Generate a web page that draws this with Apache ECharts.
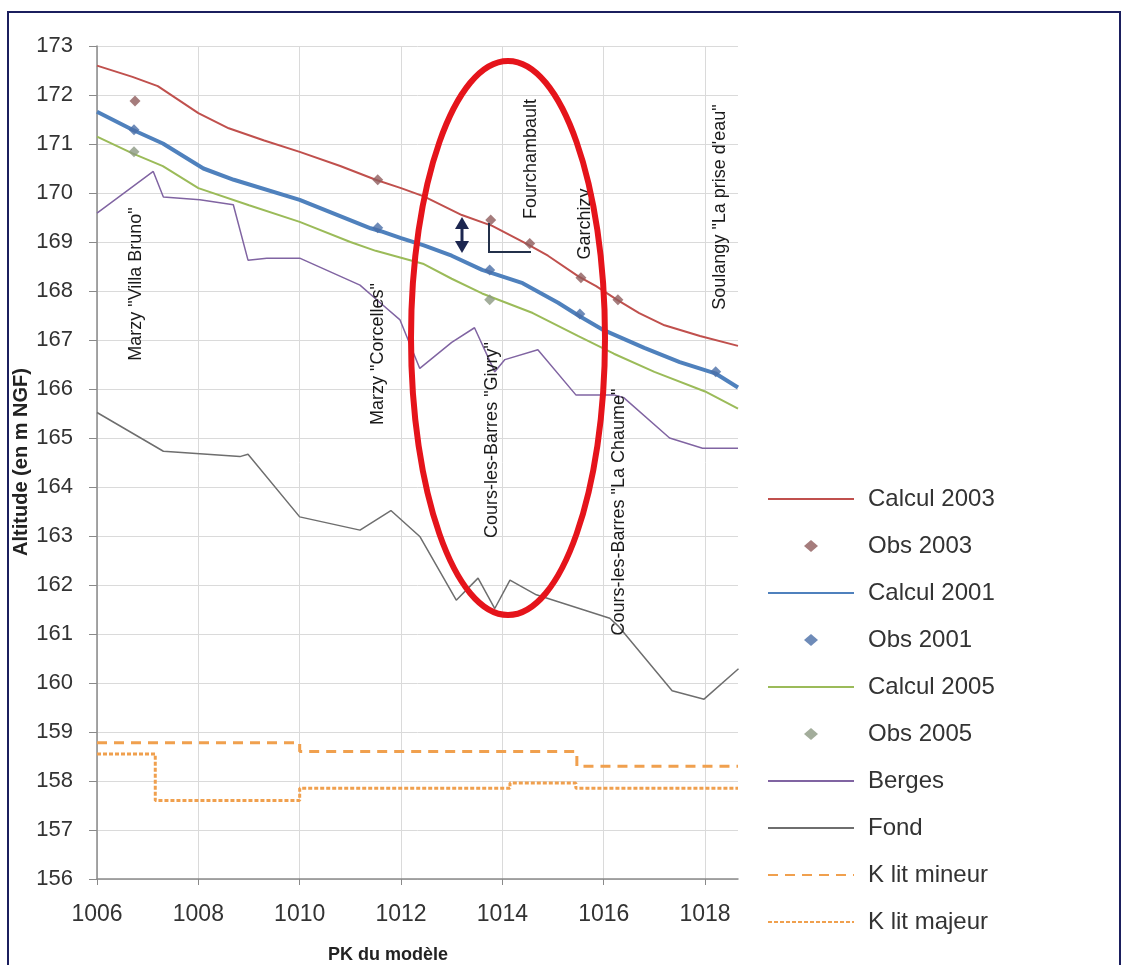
<!DOCTYPE html>
<html><head><meta charset="utf-8">
<script src="https://cdn.jsdelivr.net/npm/echarts@6/dist/echarts.min.js"></script>
<style>html,body{margin:0;padding:0;background:#fff}#c{width:1128px;height:965px}</style>
</head><body><div id="c"></div>
<script>
// ---- Data ----
const calcul2003 = [[1006.0,172.6],[1006.7,172.37],[1007.2,172.18],[1008.0,171.63],[1008.6,171.32],[1009.3,171.07],[1010.0,170.84],[1010.8,170.55],[1011.5,170.27],[1012.0,170.1],[1012.45,169.93],[1013.2,169.55],[1013.8,169.33],[1014.5,168.95],[1014.9,168.72],[1015.5,168.3],[1015.85,168.1],[1016.25,167.83],[1016.7,167.55],[1017.2,167.3],[1017.9,167.08],[1018.65,166.88]];
const obs2003 = [[1006.75,171.88],[1011.54,170.27],[1013.77,169.45],[1014.54,168.97],[1015.55,168.27],[1016.28,167.82]];
const calcul2001 = [[1006.0,171.66],[1006.7,171.29],[1007.3,171.01],[1008.1,170.5],[1008.7,170.27],[1010.0,169.86],[1011.4,169.28],[1011.6,169.22],[1012.0,169.08],[1012.45,168.93],[1013.0,168.72],[1013.6,168.43],[1014.4,168.16],[1015.1,167.76],[1015.5,167.5],[1016.0,167.2],[1016.8,166.84],[1017.5,166.55],[1018.2,166.32],[1018.65,166.03]];
const obs2001 = [[1006.73,171.29],[1011.54,169.29],[1013.75,168.43],[1015.53,167.53],[1018.21,166.35]];
const calcul2005 = [[1006.0,171.15],[1006.7,170.81],[1007.3,170.55],[1008.0,170.1],[1009.0,169.75],[1010.0,169.41],[1011.0,169.0],[1011.5,168.82],[1012.0,168.68],[1012.45,168.55],[1013.0,168.25],[1013.6,167.95],[1014.6,167.55],[1015.5,167.08],[1016.2,166.72],[1017.0,166.35],[1018.0,165.95],[1018.65,165.6]];
const obs2005 = [[1006.73,170.84],[1013.75,167.82]];
const berges = [[1006.0,169.59],[1007.11,170.44],[1007.31,169.92],[1008.03,169.86],[1008.69,169.76],[1008.98,168.63],[1009.35,168.67],[1010.0,168.67],[1011.19,168.12],[1011.6,167.75],[1011.98,167.41],[1012.37,166.42],[1013.0,166.95],[1013.45,167.25],[1013.85,166.35],[1014.05,166.6],[1014.7,166.8],[1015.45,165.88],[1016.2,165.88],[1016.4,165.82],[1017.3,165.0],[1017.95,164.79],[1018.65,164.79]];
const fond = [[1006.0,165.52],[1007.31,164.73],[1008.82,164.62],[1008.98,164.67],[1010.0,163.39],[1011.19,163.12],[1011.8,163.52],[1012.37,162.99],[1013.09,161.69],[1013.52,162.14],[1013.85,161.52],[1014.15,162.1],[1014.67,161.8],[1016.12,161.32],[1016.3,161.15],[1017.35,159.84],[1017.98,159.67],[1018.66,160.29]];
const kLitMineur = [[1006,158.78],[1010,158.6],[1015.47,158.3],[1018.65,158.3]];
const kLitMajeur = [[1006,158.55],[1007.15,157.6],[1010,157.85],[1014.15,157.96],[1015.45,157.85],[1018.65,157.85]];
const seriesNames = ['Calcul 2003','Obs 2003','Calcul 2001','Obs 2001','Calcul 2005','Obs 2005','Berges','Fond','K lit mineur','K lit majeur'];
const xTicks = [1006, 1008, 1010, 1012, 1014, 1016, 1018];
const xTickStart = 1006, xTickEnd = 1018.65, xStep = 2;
const yMin = 156, yMax = 173, yStep = 1;
const xTitle = 'PK du modèle', yTitle = 'Altitude (en m NGF)';
const annotations = [
  {text:'Marzy "Villa Bruno"', x:136, y:284},
  {text:'Marzy "Corcelles"', x:378, y:354},
  {text:'Cours-les-Barres "Givry"', x:492, y:440},
  {text:'Fourchambault', x:531, y:159},
  {text:'Garchizy', x:585, y:224},
  {text:'Cours-les-Barres "La Chaume"', x:619, y:512},
  {text:'Soulangy "La prise d\'eau"', x:720, y:207}
];

const FONT = '"Liberation Sans", Arial, sans-serif';
const chart = echarts.init(document.getElementById('c'), null, {renderer:'canvas'});

function lineS(name, data, color, width, extra) {
  return Object.assign({name, type:'line', data, symbol:'none', smooth:false,
    lineStyle:{color, width}, itemStyle:{color}, z:3, animation:false}, extra||{});
}
function scatS(name, data, color) {
  return {name, type:'scatter', data, symbol:'diamond', symbolSize:11,
    itemStyle:{color}, z:4, animation:false};
}
// diamond centred in a wide legend box (bounding moves keep the aspect)
const DIAMOND_ICON = 'path://M0,0M86,12M43,0L50,6L43,12L36,6Z';
const legendData = seriesNames.map((n, i) => (i === 1 || i === 3 || i === 5)
  ? {name:n, icon:DIAMOND_ICON}
  : {name:n, itemStyle:{opacity:0}});

const graphics = [
  {type:'rect', shape:{x:8,y:12,width:1112,height:980}, style:{fill:'none', stroke:'#1b1f5e', lineWidth:2}, z:100},
  {type:'ellipse', shape:{cx:508, cy:338, rx:97, ry:277}, style:{fill:'none', stroke:'#e5141b', lineWidth:6}, z:100},
  {type:'polyline', shape:{points:[[489,223],[489,252],[531,252]]}, style:{stroke:'#23304a', lineWidth:2, fill:'none'}, z:100},
  {type:'line', shape:{x1:462,y1:224,x2:462,y2:246}, style:{stroke:'#1c2650', lineWidth:3}, z:100},
  {type:'polygon', shape:{points:[[455,229],[469,229],[462,217]]}, style:{fill:'#1c2650'}, z:100},
  {type:'polygon', shape:{points:[[455,241],[469,241],[462,253]]}, style:{fill:'#1c2650'}, z:100},
  {type:'text', x:388, y:955, style:{text:xTitle, font:'bold 18px '+FONT, fill:'#222', align:'center', verticalAlign:'middle'}, z:100},
  {type:'text', x:21, y:462, rotation:Math.PI/2, style:{text:yTitle, font:'bold 20px '+FONT, fill:'#222', align:'center', verticalAlign:'middle'}, z:100}
];
annotations.forEach(a => graphics.push({type:'text', x:a.x, y:a.y, rotation:Math.PI/2,
  style:{text:a.text, font:'18px '+FONT, fill:'#1a1a1a', align:'center', verticalAlign:'middle'}, z:90}));

const G = '#dadada';
chart.setOption({
  backgroundColor:'#ffffff',
  animation:false,
  textStyle:{fontFamily:FONT},
  grid:{left:97, right:390, top:46, bottom:86, containLabel:false, outerBoundsMode:'none'},
  xAxis:{type:'value', min:xTickStart, max:xTickEnd, interval:xStep,
    axisLine:{lineStyle:{color:'#8a8a8a', width:1.5}},
    axisTick:{show:true, length:6, lineStyle:{color:'#8a8a8a'}, customValues:xTicks},
    axisLabel:{fontSize:23, color:'#333', margin:24, fontFamily:FONT, showMaxLabel:false,
      formatter:v => String(Math.round(v))},
    splitLine:{show:true, lineStyle:{color:[G,G,G,G,G,G,G,'rgba(0,0,0,0)'], width:1}}},
  yAxis:{type:'value', min:yMin, max:yMax, interval:yStep,
    axisLine:{show:true, lineStyle:{color:'#8a8a8a', width:1.5}},
    axisTick:{show:true, length:8, lineStyle:{color:'#8a8a8a'}},
    axisLabel:{fontSize:22, color:'#333', margin:24, fontFamily:FONT, formatter:v => String(v)},
    splitLine:{show:true, lineStyle:{color:G, width:1}}},
  legend:{orient:'vertical', left:762, top:482, itemWidth:86, itemHeight:12, itemGap:23,
    symbolKeepAspect:true, data:legendData,
    lineStyle:{width:2},
    textStyle:{fontSize:24, color:'#333', lineHeight:24, fontFamily:FONT, padding:[0,0,0,9]}},
  series:[
    lineS(seriesNames[0], calcul2003, '#c0504d', 2),
    scatS(seriesNames[1], obs2003, '#8f5b5b'),
    lineS(seriesNames[2], calcul2001, '#4f81bd', 4),
    scatS(seriesNames[3], obs2001, '#4a6ea6'),
    lineS(seriesNames[4], calcul2005, '#9bbb59', 2),
    scatS(seriesNames[5], obs2005, '#8c9882'),
    lineS(seriesNames[6], berges, '#8064a2', 1.5),
    lineS(seriesNames[7], fond, '#6e6e6e', 1.5),
    lineS(seriesNames[8], kLitMineur, '#f0a04e', 3, {step:'end', lineStyle:{color:'#f0a04e', width:3, type:[10,7]}}),
    lineS(seriesNames[9], kLitMajeur, '#f0a04e', 3, {step:'end', lineStyle:{color:'#f0a04e', width:3, type:[4,2]}})
  ],
  graphic:graphics
});
</script></body></html>
